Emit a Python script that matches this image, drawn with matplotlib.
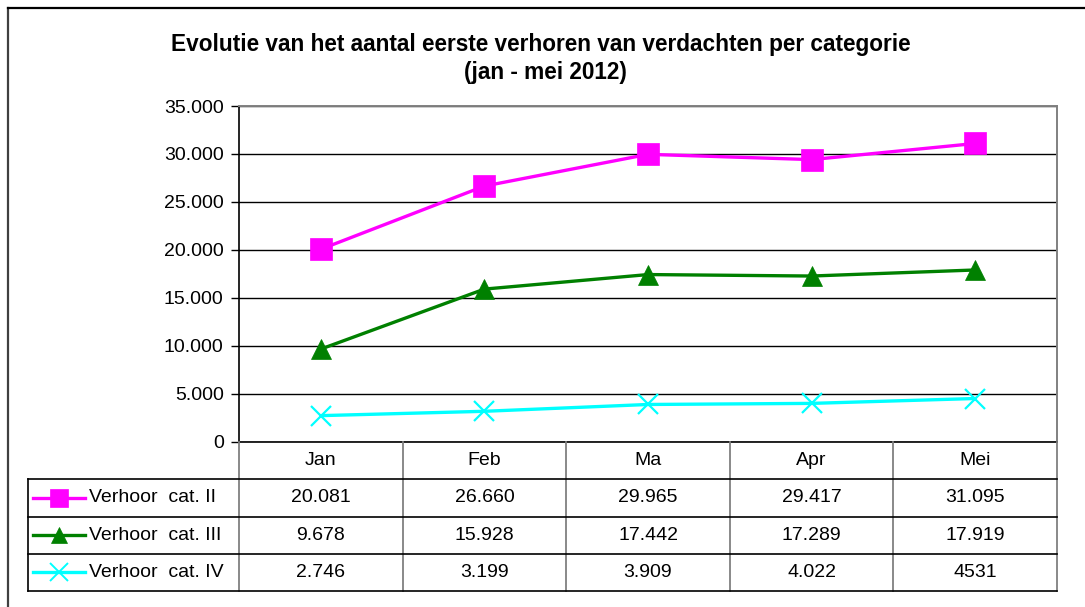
import matplotlib

matplotlib.use("Agg")
import matplotlib.pyplot as plt
from matplotlib.lines import Line2D

months = ["Jan", "Feb", "Ma", "Apr", "Mei"]
series_names = ["Verhoor  cat. II", "Verhoor  cat. III", "Verhoor  cat. IV"]
cat_ii = [20081, 26660, 29965, 29417, 31095]
cat_iii = [9678, 15928, 17442, 17289, 17919]
cat_iv = [2746, 3199, 3909, 4022, 4531]
# the chart's table prints the last value as "4531"
cat_iv_labels = ["2.746", "3.199", "3.909", "4.022", "4531"]
y_ticks = [0, 5000, 10000, 15000, 20000, 25000, 30000, 35000]


def fmt(v):
    return f"{v:,}".replace(",", ".")


plt.rcParams["font.family"] = ["Liberation Sans", "DejaVu Sans"]

W, H = 1085, 607
fig = plt.figure(figsize=(W / 100, H / 100), dpi=100)


def box(x0, y0, x1, y1):
    # pixel box (top-left origin) -> figure fraction rect
    return [x0 / W, 1 - y1 / H, (x1 - x0) / W, (y1 - y0) / H]


# outer chart frame (top and left edges visible in the crop)
fig.add_artist(Line2D([8 / W, 8 / W], [0, 1 - 8 / H], color="#404040", lw=1.6))
fig.add_artist(Line2D([8 / W, 1], [1 - 8 / H, 1 - 8 / H], color="#000000", lw=1.6))

fig.text(
    541 / W, 1 - 44 / H,
    "Evolutie van het aantal eerste verhoren van verdachten per categorie",
    ha="center", va="center", fontsize=16.3, fontweight="bold",
)
fig.text(545 / W, 1 - 73 / H, "(jan - mei 2012)", ha="center", va="center",
         fontsize=16.3, fontweight="bold")

ax = fig.add_axes(box(239, 106, 1057, 442))
x = list(range(len(months)))
styles = [
    (cat_ii, "#FF00FF", "s", 16),
    (cat_iii, "#008000", "^", 14),
    (cat_iv, "#00FFFF", "x", 15),
]
for values, color, marker, ms in styles:
    ax.plot(x, values, color=color, lw=2.4, marker=marker, markersize=ms,
            markeredgewidth=1.6 if marker == "x" else 0.5, markeredgecolor=color,
            zorder=3, clip_on=False)

ax.set_xlim(-0.5, len(months) - 0.5)
ax.set_ylim(0, 35000)
ax.set_yticks(y_ticks, [fmt(v) for v in y_ticks])
ax.set_xticks([])
ax.tick_params(axis="y", direction="out", length=6, width=1, labelsize=14,
               pad=5, color="#000000")
ax.grid(axis="y", color="#000000", lw=1)
ax.set_axisbelow(True)
for side in ["top", "right"]:
    ax.spines[side].set_color("#808080")
    ax.spines[side].set_linewidth(1.4)
ax.spines["left"].set_linewidth(1.2)
ax.spines["bottom"].set_linewidth(1.2)

# data table below the plot, in category coordinates
col_w = (1057 - 239) / len(months)
left_ext = (239 - 28) / col_w
tax = fig.add_axes(box(28, 442, 1057, 591))
tax.set_xlim(-0.5 - left_ext, len(months) - 0.5)
tax.set_ylim(4, 0)
tax.axis("off")

edge = -0.5 - left_ext
# column lines
for i in range(len(months) + 1):
    tax.plot([i - 0.5, i - 0.5], [0, 4], color="#808080", lw=1.3, clip_on=False)
tax.plot([edge, edge], [1, 4], color="#000000", lw=1.2, clip_on=False)
for r in [1, 2, 3, 4]:
    tax.plot([edge, len(months) - 0.5], [r, r], color="#000000", lw=1.2, clip_on=False)

for i, m in enumerate(months):
    tax.text(i, 0.5, m, ha="center", va="center", fontsize=14)

rows = [
    [fmt(v) for v in cat_ii],
    [fmt(v) for v in cat_iii],
    cat_iv_labels,
]
for r, (labels, (values, color, marker, ms), name) in enumerate(
        zip(rows, styles, series_names), start=1):
    for i, lab in enumerate(labels):
        tax.text(i, r + 0.5, lab, ha="center", va="center", fontsize=14)
    lx0 = edge + 0.03
    lx1 = edge + 0.35
    tax.plot([lx0, lx1], [r + 0.5, r + 0.5], color=color, lw=2.4, clip_on=False)
    tax.plot([(lx0 + lx1) / 2], [r + 0.5], marker=marker, color=color,
             markersize=ms * 0.82, markeredgecolor=color,
             markeredgewidth=1.4 if marker == "x" else 0.5, clip_on=False)
    tax.text(lx1 + 0.02, r + 0.5, name, ha="left", va="center", fontsize=14)

fig.savefig("out.png", dpi=100, facecolor="white")
